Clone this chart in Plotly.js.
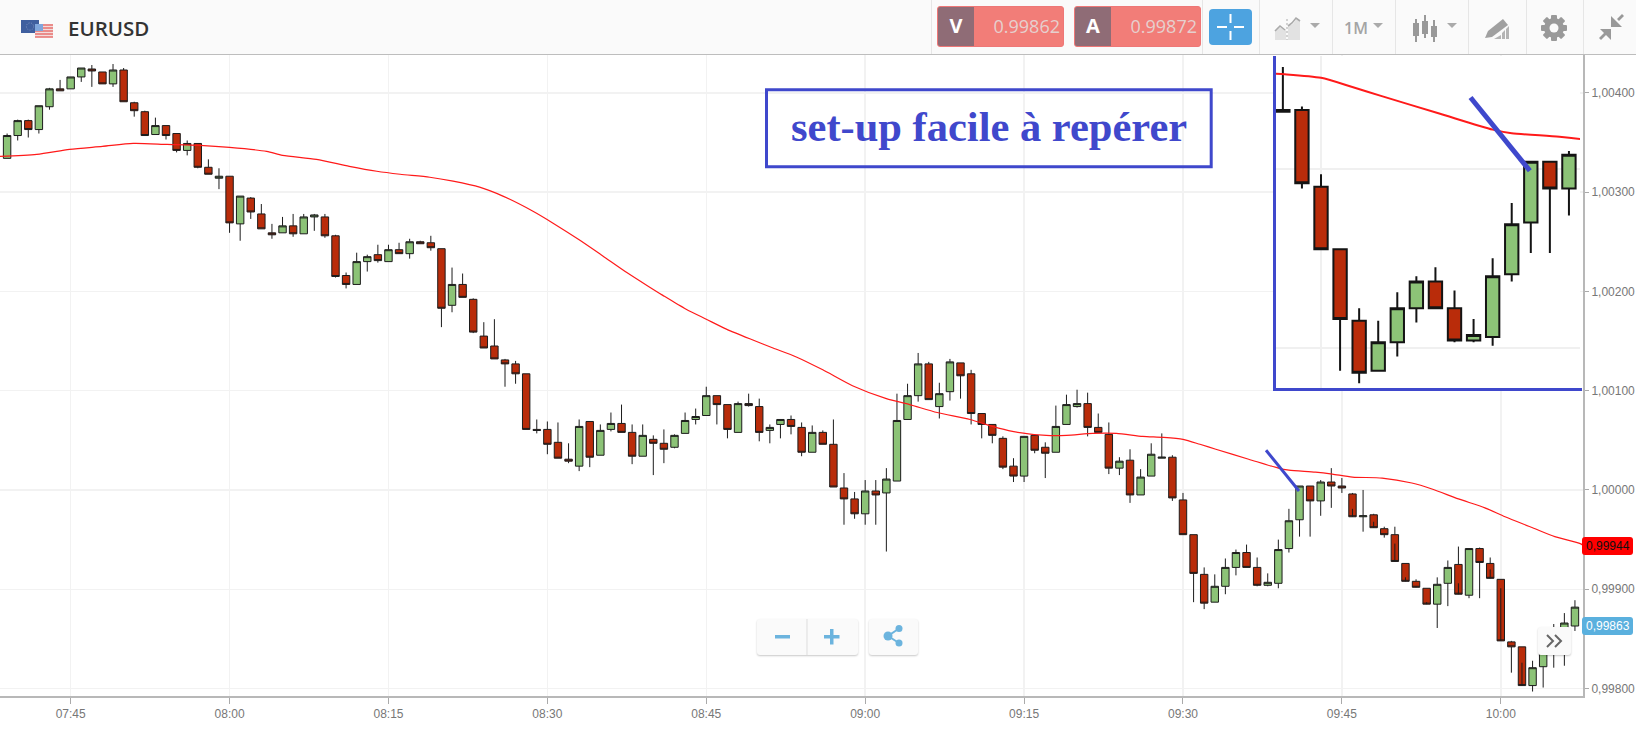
<!DOCTYPE html>
<html>
<head>
<meta charset="utf-8">
<title>EURUSD</title>
<script src="https://cdn.plot.ly/plotly-3.0.1.min.js"></script>
<style>
html,body{margin:0;padding:0;background:#fff;width:1636px;height:729px;overflow:hidden;font-family:"Open Sans",sans-serif}
#chart{position:absolute;left:0;top:0;width:1636px;height:729px}
.abs{position:absolute;box-sizing:border-box}
#hdr{left:0;top:0;width:1636px;height:55px;background:#fafafa;border-bottom:1.5px solid #bdbdbd;z-index:5}
.sep{top:0;width:1px;height:54px;background:#e6e6e6}
.quote{top:6px;height:41px;width:127px;background:#f27d78;border-radius:3px;border:1px solid #e77;overflow:hidden}
.quote .k{position:absolute;left:0;top:0;width:36px;height:41px;background:#8f6c76;color:#fff;font:700 20px/38px "Open Sans";text-align:center}
.quote .v{position:absolute;right:3px;top:0;color:#e6d0ce;font:400 18px/39px "Open Sans"}
.btn{background:#fafafa;border-radius:3px;box-shadow:0 1px 2px rgba(0,0,0,.22);z-index:6}
</style>
</head>
<body>
<div id="chart"></div>

<div id="hdr" class="abs">
  <svg class="abs" style="left:20px;top:18px" width="34" height="20">
    <rect x="1" y="2" width="18" height="13" fill="#3f5f9f"/>
    <circle cx="10" cy="8.5" r="3.6" fill="none" stroke="#7f93bf" stroke-width="1" stroke-dasharray="1 1.5"/>
    <rect x="15" y="6" width="18" height="13" fill="#f3dcdc"/>
    <g stroke="#e8716f" stroke-width="1.4"><path d="M15 7h18M15 10h18M15 13h18M15 16h18M15 19h18"/></g>
    <rect x="15" y="6" width="8" height="7" fill="#7fa6dc"/>
  </svg>
  <div class="abs" style="left:68px;top:13px;font:600 20.5px/30px 'Open Sans';color:#333">EURUSD</div>

  <div class="abs sep" style="left:931px"></div>
  <div class="abs quote" style="left:937px"><div class="k">V</div><div class="v">0.99862</div></div>
  <div class="abs quote" style="left:1074px"><div class="k">A</div><div class="v">0.99872</div></div>
  <div class="abs sep" style="left:1202px"></div>

  <div class="abs" style="left:1209px;top:9px;width:43px;height:36px;background:#4da3e0;border-radius:4px">
    <svg width="43" height="36"><g stroke="#fff" stroke-width="2"><path d="M8 18h10M25 18h10M21.5 5v9M21.5 22v9"/></g></svg>
  </div>

  <div class="abs sep" style="left:1259px"></div>
  <svg class="abs" style="left:1260px;top:0" width="72" height="52">
    <path d="M15 40V31l5-4 4 3 2-1V40z" fill="#e2e2e2"/><path d="M28 40V26l5-2 4-6 3 3V40z" fill="#e2e2e2"/>
    <path d="M15 31l5-5 5 4" fill="none" stroke="#aaa" stroke-width="1.6"/>
    <path d="M28 26l4-3 4-5 4 3" fill="none" stroke="#aaa" stroke-width="1.6"/>
    <path d="M27 19v21" stroke="#aaa" stroke-width="1" stroke-dasharray="2 2"/>
    <path d="M50 23h10l-5 5z" fill="#aaa"/>
  </svg>
  <div class="abs sep" style="left:1332px"></div>
  <div class="abs" style="left:1344px;top:14px;font:600 16px/28px 'Open Sans';color:#a4a4a4">1M</div>
  <svg class="abs" style="left:1370px;top:0" width="20" height="52"><path d="M3 23h10l-5 5z" fill="#aaa"/></svg>
  <div class="abs sep" style="left:1395px"></div>
  <svg class="abs" style="left:1396px;top:0" width="72" height="52">
    <g stroke="#999" stroke-width="2"><path d="M20 19v23M29 15v23M38 20v22"/></g>
    <g fill="#999"><rect x="17" y="23" width="6" height="13"/><rect x="26" y="21" width="6" height="13"/><rect x="35" y="26" width="6" height="11"/></g>
    <path d="M51 23h10l-5 5z" fill="#aaa"/>
  </svg>
  <div class="abs sep" style="left:1468px"></div>
  <svg class="abs" style="left:1469px;top:0" width="56" height="52">
    <path d="M16 38l3-7 15-12 5 6-16 12z" fill="#a0a0a0"/>
    <path d="M25 39l7-4v4zM33 39v-6l3-3v9zM37 39V29l3-3v13z" fill="#b4b4b4"/>
  </svg>
  <div class="abs sep" style="left:1526px"></div>
  <svg class="abs" style="left:1527px;top:0" width="56" height="52">
    <g transform="translate(27,28)" fill="#999">
      <rect x="-3" y="-13" width="6" height="26" rx="1"/>
      <rect x="-3" y="-13" width="6" height="26" rx="1" transform="rotate(45)"/>
      <rect x="-3" y="-13" width="6" height="26" rx="1" transform="rotate(90)"/>
      <rect x="-3" y="-13" width="6" height="26" rx="1" transform="rotate(135)"/>
      <circle r="10"/>
      <circle r="4.5" fill="#fafafa"/>
    </g>
  </svg>
  <div class="abs sep" style="left:1583px"></div>
  <svg class="abs" style="left:1584px;top:0" width="50" height="52">
    <g fill="#999">
      <path d="M27 16v11h11z"/>
      <path d="M33 19l5-5 2 2-5 5z"/>
      <path d="M16 29h11v11z"/>
      <path d="M15 38l6-6 2 2-6 6z"/>
    </g>
  </svg>
</div>

<div class="abs btn" style="left:757px;top:619px;width:101px;height:36px">
  <svg width="101" height="36"><path d="M50 0v36" stroke="#ddd"/><rect x="18" y="16" width="15" height="3.5" fill="#6cb4de"/>
  <path d="M67 16h6v-6h3.5v6h6v3.5h-6v6H73v-6h-6z" fill="#6cb4de"/></svg>
</div>
<div class="abs btn" style="left:869px;top:619px;width:49px;height:36px">
  <svg width="49" height="36"><g fill="#6cb4de"><circle cx="19" cy="17" r="4.5"/><circle cx="30" cy="9.5" r="3.5"/><circle cx="30" cy="24" r="3.5"/></g>
  <path d="M30 9.5L19 17l11 7" stroke="#6cb4de" stroke-width="2" fill="none"/></svg>
</div>
<div class="abs btn" style="left:1538px;top:627px;width:33px;height:28px">
  <svg width="33" height="28"><path d="M9 8l6 6-6 6M17 8l6 6-6 6" fill="none" stroke="#666" stroke-width="2"/></svg>
</div>

<script>
// Candles: one per minute, first one at 07:39 (459 minutes after midnight)
const firstMinute = 459;
const opens = [
1.00334,1.00357,1.00372,1.00363,1.00386,1.00404,1.00404,1.00416,1.00424,1.00421,
1.00409,1.00423,1.00390,1.00381,1.00358,1.00367,1.00359,1.00342,1.00349,1.00325,
1.00314,1.00316,1.00268,1.00294,1.00278,1.00259,1.00259,1.00266,1.00258,1.00275,
1.00275,1.00256,1.00216,1.00207,1.00230,1.00237,1.00230,1.00242,1.00238,1.00250,
1.00249,1.00243,1.00186,1.00207,1.00192,1.00155,1.00145,1.00131,1.00127,1.00117,
1.00061,1.00061,1.00048,1.00031,1.00024,1.00069,1.00035,1.00061,1.00067,1.00058,
1.00034,1.00051,1.00047,1.00043,1.00057,1.00071,1.00075,1.00095,1.00086,1.00058,
1.00087,1.00084,1.00060,1.00066,1.00071,1.00063,1.00038,1.00058,1.00046,1.00002,
0.99991,0.99976,0.99999,0.99997,1.00009,1.00071,1.00095,1.00127,1.00084,1.00099,
1.00128,1.00117,1.00077,1.00066,1.00052,1.00024,1.00014,1.00055,1.00043,1.00038,
1.00066,1.00084,1.00087,1.00063,1.00056,1.00022,1.00030,0.99995,1.00014,1.00032,
1.00033,0.99990,0.99955,0.99915,0.99887,0.99903,0.99922,0.99937,0.99922,0.99904,
0.99906,0.99941,0.99970,1.00004,0.99989,1.00008,1.00004,0.99996,0.99973,0.99975,
0.99961,0.99955,0.99926,0.99908,0.99901,0.99885,0.99906,0.99925,0.99894,0.99941,
0.99926,0.99910,0.99847,0.99842,0.99803,0.99822,0.99840,0.99861,0.99863];
const highs = [
1.00359,1.00373,1.00373,1.00387,1.00405,1.00413,1.00416,1.00425,1.00428,1.00421,
1.00429,1.00425,1.00391,1.00382,1.00375,1.00367,1.00359,1.00352,1.00349,1.00333,
1.00324,1.00316,1.00296,1.00295,1.00288,1.00268,1.00275,1.00278,1.00278,1.00278,
1.00278,1.00257,1.00219,1.00239,1.00237,1.00247,1.00247,1.00249,1.00253,1.00251,
1.00256,1.00243,1.00224,1.00218,1.00193,1.00169,1.00172,1.00132,1.00130,1.00117,
1.00071,1.00069,1.00068,1.00047,1.00071,1.00069,1.00066,1.00078,1.00086,1.00066,
1.00066,1.00055,1.00061,1.00056,1.00078,1.00082,1.00104,1.00095,1.00086,1.00089,
1.00097,1.00092,1.00066,1.00071,1.00075,1.00068,1.00065,1.00060,1.00071,1.00017,
0.99998,1.00010,1.00010,1.00022,1.00097,1.00107,1.00138,1.00129,1.00108,1.00132,
1.00128,1.00121,1.00077,1.00066,1.00054,1.00032,1.00054,1.00056,1.00048,1.00085,
1.00096,1.00101,1.00098,1.00077,1.00068,1.00033,1.00041,1.00021,1.00047,1.00057,
1.00035,0.99997,0.99955,0.99922,0.99915,0.99931,0.99940,0.99945,0.99932,0.99916,
0.99950,0.99981,1.00004,1.00004,1.00010,1.00022,1.00012,0.99997,1.00000,0.99976,
0.99963,0.99963,0.99926,0.99910,0.99901,0.99912,0.99929,0.99943,0.99941,0.99942,
0.99932,0.99910,0.99848,0.99842,0.99828,0.99860,0.99865,0.99876,0.99889];
const lows = [
1.00334,1.00352,1.00355,1.00359,1.00383,1.00402,1.00404,1.00411,1.00406,1.00409,
1.00406,1.00391,1.00376,1.00357,1.00358,1.00353,1.00340,1.00337,1.00324,1.00318,
1.00303,1.00259,1.00251,1.00273,1.00263,1.00253,1.00259,1.00255,1.00258,1.00261,
1.00254,1.00214,1.00203,1.00207,1.00220,1.00229,1.00230,1.00238,1.00233,1.00248,
1.00241,1.00164,1.00179,1.00194,1.00158,1.00143,1.00132,1.00104,1.00107,1.00061,
1.00057,1.00036,1.00032,1.00027,1.00019,1.00023,1.00035,1.00059,1.00058,1.00026,
1.00034,1.00015,1.00027,1.00042,1.00057,1.00066,1.00075,1.00066,1.00052,1.00058,
1.00084,1.00049,1.00047,1.00052,1.00056,1.00034,1.00038,1.00046,1.00003,0.99965,
0.99971,0.99965,0.99965,0.99938,1.00009,1.00071,1.00089,1.00091,1.00072,1.00090,
1.00092,1.00066,1.00052,1.00047,1.00021,1.00008,1.00008,1.00037,1.00012,1.00038,
1.00066,1.00083,1.00054,1.00058,1.00016,1.00015,0.99987,0.99995,1.00014,1.00032,
0.99989,0.99955,0.99887,0.99880,0.99887,0.99895,0.99914,0.99922,0.99903,0.99903,
0.99901,0.99937,0.99953,0.99953,0.99974,0.99982,0.99997,0.99981,0.99958,0.99968,
0.99952,0.99946,0.99912,0.99903,0.99887,0.99861,0.99883,0.99906,0.99891,0.99891,
0.99920,0.99901,0.99816,0.99826,0.99797,0.99801,0.99821,0.99823,0.99858,0.99863];
const closes = [
1.00357,1.00372,1.00363,1.00387,1.00404,1.00402,1.00416,1.00425,1.00422,1.00409,
1.00423,1.00391,1.00382,1.00357,1.00367,1.00357,1.00342,1.00349,1.00325,1.00318,
1.00316,1.00269,1.00296,1.00280,1.00263,1.00257,1.00266,1.00258,1.00275,1.00277,
1.00256,1.00215,1.00207,1.00230,1.00235,1.00231,1.00242,1.00238,1.00250,1.00248,
1.00244,1.00183,1.00207,1.00194,1.00159,1.00143,1.00132,1.00127,1.00117,1.00061,
1.00060,1.00046,1.00032,1.00029,1.00064,1.00033,1.00060,1.00067,1.00058,1.00034,
1.00055,1.00047,1.00041,1.00055,1.00070,1.00074,1.00095,1.00086,1.00061,1.00087,
1.00085,1.00058,1.00063,1.00071,1.00064,1.00038,1.00058,1.00046,1.00003,0.99991,
0.99976,0.99999,0.99995,1.00011,1.00070,1.00095,1.00127,1.00091,1.00097,1.00129,
1.00115,1.00077,1.00066,1.00055,1.00023,1.00014,1.00054,1.00040,1.00037,1.00064,
1.00086,1.00087,1.00063,1.00058,1.00022,1.00029,0.99995,1.00013,1.00036,1.00033,
0.99992,0.99955,0.99916,0.99886,0.99903,0.99922,0.99937,0.99922,0.99904,0.99907,
0.99940,0.99969,1.00004,0.99989,1.00008,1.00004,1.00002,0.99973,0.99974,0.99962,
0.99955,0.99928,0.99908,0.99902,0.99885,0.99905,0.99922,0.99895,0.99941,0.99927,
0.99911,0.99848,0.99842,0.99803,0.99821,0.99850,0.99861,0.99866,0.99882];

// Moving average (read as a red curve): minute of day and price
const maMinutes = [458.3,461.8,464.9,468,470.9,474.1,477.2,480,483.5,485,488.2,491.3,493.9,496.1,498.9,501.1,503.6,505.8,508.6,510.5,513,515.2,517.5,519.4,520.9,523.1,525,526.9,529.4,531.3,533.5,536,538.8,542,544.2,546.8,549.9,552,553.9,557.1,559,561.5,563.7,566.2,568.1,570,571.6,573.1,576.2,579,580,582.5,584.1,586,588.8,591.6,593.5,596,598.5,600.4,603,605.1,607.5,607.8];
const maPrices = [1.00336,1.00338,1.00343,1.00346,1.00349,1.00348,1.00347,1.00345,1.00341,1.00337,1.00333,1.00326,1.00321,1.00318,1.00315,1.00311,1.00305,1.00296,1.00281,1.00269,1.00252,1.00236,1.00219,1.00206,1.00196,1.00182,1.00172,1.00162,1.00151,1.00143,1.00134,1.00121,1.00105,1.00092,1.00086,1.00078,1.00071,1.00064,1.00059,1.00055,1.00055,1.00057,1.00057,1.00054,1.00053,1.00051,1.00046,1.00041,1.00031,1.00022,1.0002,1.00018,1.00016,1.00013,1.00012,1.00007,1.00001,0.99991,0.99982,0.99973,0.99962,0.99953,0.99946,0.99944];

// Hand-drawn set-up stroke
const strokeMinutes = [577.84, 580.95];
const strokePrices = [1.0004, 0.99999];

// Axis ticks
const timeTickValues = [465,480,495,510,525,540,555,570,585,600];
const timeTickLabels = ["07:45","08:00","08:15","08:30","08:45","09:00","09:15","09:30","09:45","10:00"];
const priceTicks = [0.998,0.999,1.0,1.001,1.002,1.003,1.004];
const maLastPrice = 0.99944, bidLastPrice = 0.99863;

const W = 1636, H = 729;
const fx = p => p / W, fy = p => 1 - p / H;
const minutes = opens.map((_, i) => firstMinute + i);
const BLUE = "#3f48cc", GREEN = "#8cc377", RED = "#b92c0a";

function candles(xa, ya, lw, edge) {
  return {type: "candlestick", x: minutes, open: opens, high: highs, low: lows, close: closes,
    xaxis: xa, yaxis: ya, whiskerwidth: 0, showlegend: false, hoverinfo: "skip",
    increasing: {fillcolor: GREEN, line: {color: edge, width: lw}},
    decreasing: {fillcolor: RED, line: {color: edge, width: lw}}};
}
function avg(xa, ya, lw) {
  return {type: "scatter", mode: "lines", x: maMinutes, y: maPrices, xaxis: xa, yaxis: ya,
    line: {color: "#ff1a1a", width: lw, shape: "spline", smoothing: 0.7}, showlegend: false, hoverinfo: "skip"};
}
function rr(x0, y0, x1, y1, r) {
  const X = v => fx(v), Y = v => fy(v);
  return `M${X(x0+r)},${Y(y0)} L${X(x1-r)},${Y(y0)} Q${X(x1)},${Y(y0)} ${X(x1)},${Y(y0+r)} L${X(x1)},${Y(y1-r)} Q${X(x1)},${Y(y1)} ${X(x1-r)},${Y(y1)} L${X(x0+r)},${Y(y1)} Q${X(x0)},${Y(y1)} ${X(x0)},${Y(y1-r)} L${X(x0)},${Y(y0+r)} Q${X(x0)},${Y(y0)} ${X(x0+r)},${Y(y0)} Z`;
}
const labelFont = {family: "Liberation Sans", size: 12, color: "#777"};
const paperLine = (x0, y0, x1, y1, w) => ({type: "line", xref: "paper", yref: "paper", x0: fx(x0), y0: fy(y0), x1: fx(x1), y1: fy(y1), line: {color: BLUE, width: w}});

const layout = {
  width: W, height: H, margin: {l: 0, r: 0, t: 0, b: 0}, paper_bgcolor: "#fff", plot_bgcolor: "#fff",
  separators: ",.", showlegend: false, dragmode: false, hovermode: false, boxgap: 0.3, boxgroupgap: 0,
  xaxis: {domain: [0, fx(1583)], range: [458.33, 607.76], anchor: "y", rangeslider: {visible: false},
    tickmode: "array", tickvals: timeTickValues, ticktext: timeTickLabels, ticks: "outside", ticklen: 6, tickcolor: "#aaa",
    showline: true, linecolor: "#b8b8b8", linewidth: 2, showgrid: true, gridcolor: "#f2f2f2", gridwidth: 1.5, zeroline: false, tickfont: labelFont},
  yaxis: {domain: [fy(696), fy(54)], range: [0.997925, 1.004391], anchor: "x", side: "right",
    tickmode: "array", tickvals: priceTicks, tickformat: ".5f", ticks: "outside", ticklen: 4, tickcolor: "#aaa",
    showline: true, linecolor: "#b8b8b8", linewidth: 2, showgrid: true, gridcolor: "#f2f2f2", gridwidth: 1.5, zeroline: false, tickfont: labelFont},
  xaxis2: {domain: [fx(1276), fx(1580)], range: [567.64, 583.58], anchor: "y2", rangeslider: {visible: false},
    tickmode: "array", tickvals: [570], showticklabels: false, ticks: "", showline: false, showgrid: true, gridcolor: "#f0f0f0", gridwidth: 2, zeroline: false},
  yaxis2: {domain: [fy(388), fy(56)], range: [0.998774, 1.000632], anchor: "x2", side: "right",
    tickmode: "array", tickvals: [0.999, 1.0], showticklabels: false, ticks: "", showline: false, showgrid: true, gridcolor: "#f0f0f0", gridwidth: 2, zeroline: false},
  shapes: [
    {type: "line", xref: "x", yref: "y", x0: strokeMinutes[0], y0: strokePrices[0], x1: strokeMinutes[1], y1: strokePrices[1], line: {color: BLUE, width: 3}},
    {type: "line", xref: "x2", yref: "y2", x0: strokeMinutes[0], y0: strokePrices[0], x1: strokeMinutes[1], y1: strokePrices[1], line: {color: BLUE, width: 5}},
    paperLine(1274.5, 56, 1274.5, 391, 3),
    paperLine(1273, 389.5, 1582, 389.5, 3),
    {type: "rect", xref: "paper", yref: "paper", x0: fx(766.5), x1: fx(1211.2), y0: fy(89.8), y1: fy(166.8), line: {color: BLUE, width: 3}, fillcolor: "rgba(0,0,0,0)"},
    {type: "path", xref: "paper", yref: "paper", path: rr(1582, 537, 1633, 555, 3), fillcolor: "#ff0000", line: {width: 0}},
    {type: "path", xref: "paper", yref: "paper", path: rr(1582, 617, 1633, 635, 3), fillcolor: "#5ab0de", line: {width: 0}}
  ],
  annotations: [
    {xref: "paper", yref: "paper", x: fx(989.4), y: fy(126), xanchor: "center", yanchor: "middle", showarrow: false,
     text: "set-up facile à repérer", font: {family: "Liberation Serif", size: 42.5, color: "#4048cc", weight: 700}},
    {xref: "paper", yref: "y", x: fx(1607.5), y: maLastPrice, xanchor: "center", yanchor: "middle", showarrow: false,
     text: "0,99944", font: {family: "Liberation Sans", size: 12, color: "#111"}},
    {xref: "paper", yref: "y", x: fx(1607.5), y: bidLastPrice, xanchor: "center", yanchor: "middle", showarrow: false,
     text: "0,99863", font: {family: "Liberation Sans", size: 12, color: "#fff"}}
  ]
};

Plotly.newPlot("chart", [
  candles("x", "y", 1, "#1c1c1c"), avg("x", "y", 1.2),
  candles("x2", "y2", 2, "#141414"), avg("x2", "y2", 2)
], layout, {displayModeBar: false, staticPlot: true});
</script>
</body>
</html>
